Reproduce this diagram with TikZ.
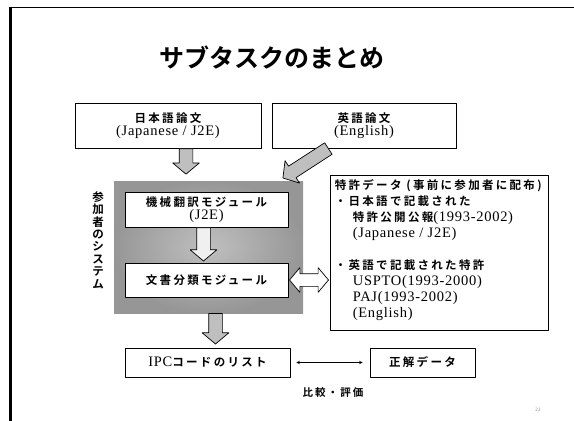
\documentclass[tikz,border=0pt]{standalone}
\usepackage{fontspec}
\setmainfont{Liberation Serif}[LetterSpace=5]
\newfontfamily\jp{Noto Sans CJK JP}[BoldFont={Noto Sans CJK JP Bold}, LetterSpace=20]
\newfontfamily\jptitle{Noto Sans CJK JP}[BoldFont={Noto Sans CJK JP Bold}]
\usetikzlibrary{calc,shapes.arrows}
\newcommand\en[1]{{\rmfamily\mdseries\fontsize{14.5}{12}\selectfont #1}}
\begin{document}
\begin{tikzpicture}[x=1pt, y=-1pt, >=stealth, line join=round,
	font=\jp\bfseries\fontsize{11.5}{12}\selectfont,
	box/.style={draw, line width=0.7pt, fill=white, align=center, inner sep=0pt},
	fatarrow/.style={single arrow, draw, line width=0.7pt, fill=#1, inner sep=6.5pt, anchor=tail,
		single arrow head extend=6.5pt, single arrow tip angle=100},
	fatboth/.style={double arrow, draw, line width=0.7pt, fill=white, inner sep=6pt,
		double arrow head extend=6pt, double arrow tip angle=100}]
	\useasboundingbox (0,0) rectangle (574,421);
	% slide frame
	\draw[line width=3pt] (10,421) -- (10,7.5);
	\draw[line width=1.6pt] (8.5,7.5) -- (574,7.5);
	\node (title) at (272,57) {\jptitle\bfseries\fontsize{25}{30}\selectfont サブタスクのまとめ};
	% input papers
	\node[box, minimum width=186pt, minimum height=45pt] (jap) at (168,125.5) {日本語論文\\[1pt]\en{(Japanese / J2E)}};
	\node[box, minimum width=184pt, minimum height=45pt] (eng) at (364,125.5) {英語論文\\[1pt]\en{(English)}};
	% participant system
	\node[shade, inner color=gray!50, outer color=gray!82, minimum width=189pt, minimum height=132pt] (sys) at (208.5,247) {};
	\node[align=center, font=\jp\bfseries\fontsize{11.5}{12.4}\selectfont] (sysname) at (98,240) {参\\加\\者\\の\\シ\\ス\\テ\\ム};
	\node[box, minimum width=163pt, minimum height=35pt] (mt) at (206.5,209.5) {機械翻訳モジュール\\[1pt]\en{(J2E)}};
	\node[box, minimum width=163pt, minimum height=34pt] (doc) at (206.5,280) {文書分類モジュール};
	% patent data
	\node[box, minimum width=218pt, minimum height=155pt] (pat) at (439,252.5) {};
	\node[anchor=north west, align=left, inner sep=0pt, font=\jp\bfseries\fontsize{11.5}{16}\selectfont] (pattext) at ($(pat.north west)+(5,5)$) {%
		特許データ (事前に参加者に配布)\\
		・日本語で記載された\\
		\hspace{18pt}特許公開公報\en{(1993-2002)}\\
		\hspace{18pt}\en{(Japanese / J2E)}\\[16pt]
		・英語で記載された特許\\
		\hspace{18pt}\en{USPTO(1993-2000)}\\
		\hspace{18pt}\en{PAJ(1993-2002)}\\
		\hspace{18pt}\en{(English)}};
	% output
	\node[box, minimum width=165pt, minimum height=29pt] (ipc) at (207.5,362.5) {\en{IPC}コードのリスト};
	\node[box, minimum width=105pt, minimum height=29pt] (ans) at (422.5,362.5) {正解データ};
	\node[font=\jp\bfseries\fontsize{10.5}{12}\selectfont] (cmp) at (333,393) {比較・評価};
	\node[text=gray, font=\fontsize{5}{5}\selectfont] (pg) at (538,410) {22};
	% block arrows
	\coordinate (s1) at ($(jap.south)+(18,0)$);
	\coordinate (t1) at ($(s1 |- sys.north)+(0,-7)$);
	\coordinate (s2) at ($(eng.south west)+(57,0)$);
	\coordinate (t2) at ($(sys.north east)+(-20,-3)$);
	\coordinate (s3) at ($(mt.south)+(-3,0)$);
	\coordinate (t3) at ($(doc.north)+(-3,-2)$);
	\coordinate (s4) at ($(sys.south)+(7,0)$);
	\coordinate (t4) at ($(ipc.north)+(8,-4)$);
	\foreach \src/\dst/\col/\nm in {s1/t1/gray!50/arr1, s2/t2/gray!50/arr2, s3/t3/gray!12/arr3, s4/t4/gray!50/arr4}
		\path let \p1=($(\dst)-(\src)$) in node[fatarrow=\col, rotate={atan2(\y1,\x1)}, minimum height={veclen(\x1,\y1)}] (\nm) at (\src) {};
	\node[fatboth, minimum height=39pt] (arr5) at ($(doc.east)!0.5!(doc.east -| pat.west)$) {};
	\draw[<->, line width=0.6pt] ($(ipc.east)+(6,0)$) -- ($(ans.west)+(-7,0)$);
\end{tikzpicture}
\end{document}
